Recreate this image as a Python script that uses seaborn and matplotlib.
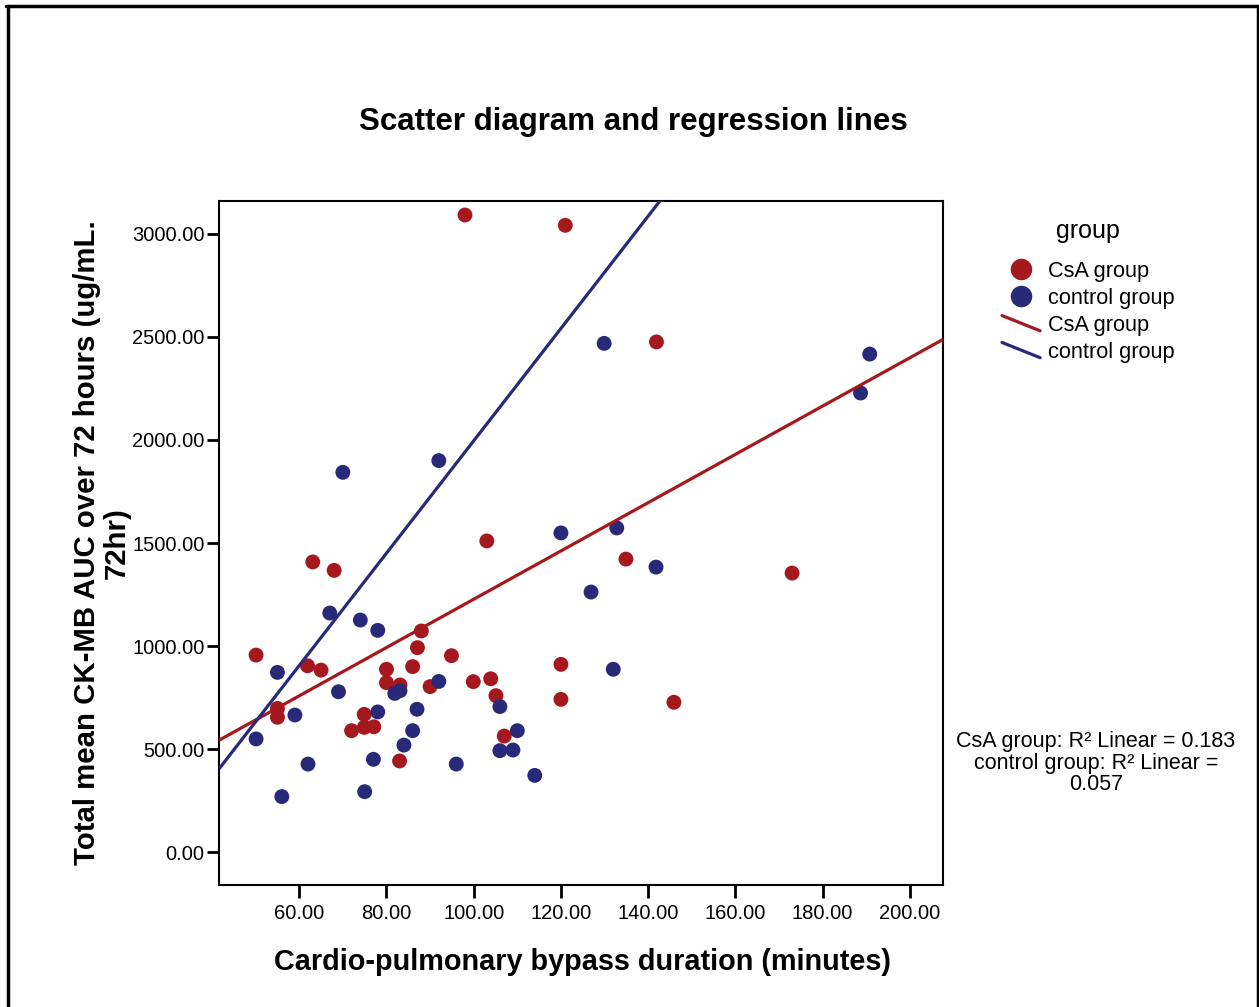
import numpy as np
import pandas as pd
import matplotlib
matplotlib.use("Agg")
import matplotlib.pyplot as plt
from matplotlib.lines import Line2D
from matplotlib.legend_handler import HandlerBase
from matplotlib.ticker import FormatStrFormatter
import seaborn as sns

# ---------------- data ----------------
csa_cpb = [98.0, 121.0, 141.9, 63.1, 68.0, 88.0, 87.1, 50.1, 94.9, 103.0,
           61.9, 65.0, 55.0, 55.0, 86.0, 80.0, 80.0, 83.1, 90.0, 99.9,
           74.9, 72.0, 74.9, 77.1, 83.0, 103.9, 105.1, 107.0, 120.0, 120.0,
           145.9, 134.9, 173.0]
csa_auc = [3092, 3042, 2476, 1408, 1367, 1073, 992, 956, 953, 1510,
           904, 883, 697, 654, 900, 887, 822, 811, 803, 827,
           668, 589, 605, 608, 442, 841, 759, 563, 911, 741,
           727, 1422, 1354]

ctl_cpb = [129.9, 70.0, 92.0, 67.0, 74.0, 78.0, 55.0, 69.0, 59.0, 50.1,
           62.0, 56.0, 81.9, 83.1, 92.0, 78.0, 87.0, 86.0, 84.0, 77.0,
           96.0, 75.0, 106.0, 110.0, 106.0, 109.0, 114.0, 132.0, 120.0, 126.9,
           132.8, 141.8, 190.8, 188.7]
ctl_auc = [2469, 1843, 1900, 1160, 1126, 1076, 872, 778, 665, 549,
           427, 269, 770, 783, 828, 680, 693, 589, 519, 450,
           427, 293, 706, 589, 492, 495, 372, 887, 1549, 1262,
           1573, 1383, 2417, 2228]

groups = ["CsA group", "control group"]
reg_intercepts = [55.0, -731.0]
reg_slopes = [11.72, 27.27]
r2_values = ["0.183", "0.057"]

x_ticks = [60, 80, 100, 120, 140, 160, 180, 200]
y_ticks = [0, 500, 1000, 1500, 2000, 2500, 3000]

RED = "#A5191E"
BLUE = "#29297A"
colors = {"CsA group": RED, "control group": BLUE}

df = pd.DataFrame({
    "cpb": csa_cpb + ctl_cpb,
    "auc": csa_auc + ctl_auc,
    "group": ["CsA group"] * len(csa_cpb) + ["control group"] * len(ctl_cpb),
})

# ---------------- style ----------------
sns.set_style("ticks")
plt.rcParams["font.family"] = ["Liberation Sans", "DejaVu Sans"]
plt.rcParams["text.color"] = "black"
plt.rcParams["axes.labelcolor"] = "black"
plt.rcParams["xtick.color"] = "black"
plt.rcParams["ytick.color"] = "black"

fig = plt.figure(figsize=(12.59, 10.07), dpi=100)
ax = fig.add_axes([219 / 1259, 1 - 885 / 1007, (943 - 219) / 1259, (885 - 201) / 1007])

sns.scatterplot(data=df, x="cpb", y="auc", hue="group", palette=colors,
                hue_order=groups, s=115, linewidth=0, legend=False, ax=ax,
                zorder=3)

xlim = (41.6, 207.6)
ax.set_xlim(*xlim)
ax.set_ylim(-160, 3160)

line_handles = []
xs = np.array(xlim)
for g, b0, b1 in zip(groups, reg_intercepts, reg_slopes):
    ln, = ax.plot(xs, b0 + b1 * xs, color=colors[g], lw=2.3, zorder=4,
                  solid_capstyle="butt")
    line_handles.append(ln)

ax.set_xticks(x_ticks)
ax.set_yticks(y_ticks)
ax.xaxis.set_major_formatter(FormatStrFormatter("%.2f"))
ax.yaxis.set_major_formatter(FormatStrFormatter("%.2f"))
ax.tick_params(axis="both", direction="out", length=9, width=2,
               labelsize=14.5, color="black", labelcolor="black")
ax.tick_params(axis="x", pad=5)
ax.tick_params(axis="y", pad=1.5)
for sp in ax.spines.values():
    sp.set_visible(True)
    sp.set_linewidth(1.5)
    sp.set_color("black")
ax.set_xlabel("")
ax.set_ylabel("")

# titles / labels
fig.text(633 / 1259, 1 - 122 / 1007, "Scatter diagram and regression lines",
         ha="center", va="center", fontsize=22.5, fontweight="bold")
fig.text(582 / 1259, 1 - 962 / 1007, "Cardio-pulmonary bypass duration (minutes)",
         ha="center", va="center", fontsize=20.8, fontweight="bold")
fig.text(102 / 1259, 1 - 543 / 1007,
         "Total mean CK-MB AUC over 72 hours (ug/mL.\n72hr)",
         ha="center", va="center", rotation=90, multialignment="center",
         fontsize=21.2, fontweight="bold", linespacing=1.1)


# legend with diagonal line handles
class DiagHandler(HandlerBase):
    def create_artists(self, legend, orig_handle, xdescent, ydescent,
                       width, height, fontsize, trans):
        l = Line2D([-xdescent, -xdescent + width],
                   [-ydescent + height, -ydescent],
                   color=orig_handle.get_color(),
                   lw=orig_handle.get_linewidth(), transform=trans)
        return [l]


dot_handles = [Line2D([], [], ls="", marker="o", markersize=15.5,
                      markeredgewidth=0, color=colors[g]) for g in groups]
handles = dot_handles + line_handles
labels = groups + groups
leg = fig.legend(handles, labels, title="group", loc="upper left",
                 bbox_to_anchor=(1002 / 1259, 1 - 219 / 1007),
                 frameon=False, fontsize=15.7, title_fontsize=18,
                 borderpad=0, borderaxespad=0, handlelength=1.75,
                 handletextpad=0.35, labelspacing=0.27,
                 handler_map={line_handles[0]: DiagHandler(),
                              line_handles[1]: DiagHandler()})
leg._legend_box.sep = 13

# R^2 annotation
fig.text(1096 / 1259, 1 - 763 / 1007,
         f"{groups[0]}: R\u00b2 Linear = {r2_values[0]}\n"
         f"{groups[1]}: R\u00b2 Linear =\n{r2_values[1]}",
         ha="center", va="center", multialignment="center",
         fontsize=15.5, linespacing=1.03)

# outer frame
for xy in [((7.5 / 1259, 7.5 / 1259), (0, 1 - 6 / 1007)),
           ((6 / 1259, 1257.5 / 1259), (1 - 6 / 1007, 1 - 6 / 1007)),
           ((1257.5 / 1259, 1257.5 / 1259), (0, 1 - 6 / 1007))]:
    fig.add_artist(Line2D(xy[0], xy[1], color="black", lw=2.5,
                          transform=fig.transFigure))

fig.savefig("out.png", dpi=100)
